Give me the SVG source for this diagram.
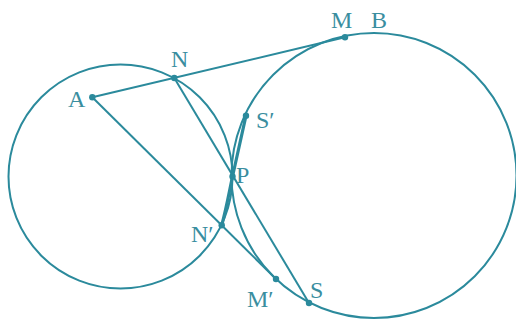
<svg xmlns="http://www.w3.org/2000/svg" width="516" height="322" viewBox="0 0 516 322">
<style>
.c{fill:none;stroke:#2b8a9c;stroke-width:2}
.l{fill:none;stroke:#2b8a9c;stroke-width:2}
.thick{fill:none;stroke:#2b8a9c;stroke-width:3.2;stroke-linecap:round}
.pt{fill:#2b8a9c}
.t{font-family:"Liberation Serif","Times New Roman",serif;font-size:24px;fill:#3a8e9f}
</style>
<rect width="516" height="322" fill="#ffffff"/>
<g id="circles">
<circle id="circleA" class="c" cx="120.5" cy="176.5" r="112"/>
<circle id="circleB" class="c" cx="374" cy="175.5" r="142.5"/>
</g>
<g id="connectors">
<line class="l" x1="92.3" y1="97.3" x2="345" y2="37.3"/>
<line class="l" x1="92.3" y1="97.3" x2="276" y2="279"/>
<line class="l" x1="174.3" y1="78" x2="309" y2="303"/>
<path class="thick" d="M246,115.7 C240,142 236,160 232.5,176.5 C229,193 226,210 221.7,225.3"/>
</g>
<g id="A"><circle class="pt" cx="92.3" cy="97.3" r="3.2"/><text class="t" x="68" y="107">A</text></g>
<g id="N"><circle class="pt" cx="174.3" cy="78" r="3.2"/><text class="t" x="171" y="67">N</text></g>
<g id="M"><circle class="pt" cx="345" cy="37.3" r="3.2"/><text class="t" x="331" y="28">M</text></g>
<g id="B"><text class="t" x="371" y="28">B</text></g>
<g id="S1"><circle class="pt" cx="246" cy="115.7" r="3.2"/><text class="t" x="256" y="128">S′</text></g>
<g id="P"><circle class="pt" cx="232.5" cy="176.5" r="3.2"/><text class="t" x="236" y="183">P</text></g>
<g id="N1"><circle class="pt" cx="221.7" cy="225.3" r="3.2"/><text class="t" x="191" y="241.5">N′</text></g>
<g id="M1"><circle class="pt" cx="276" cy="279" r="3.2"/><text class="t" x="247" y="306.5">M′</text></g>
<g id="S"><circle class="pt" cx="309" cy="303" r="3.2"/><text class="t" x="310" y="298">S</text></g>
</svg>
